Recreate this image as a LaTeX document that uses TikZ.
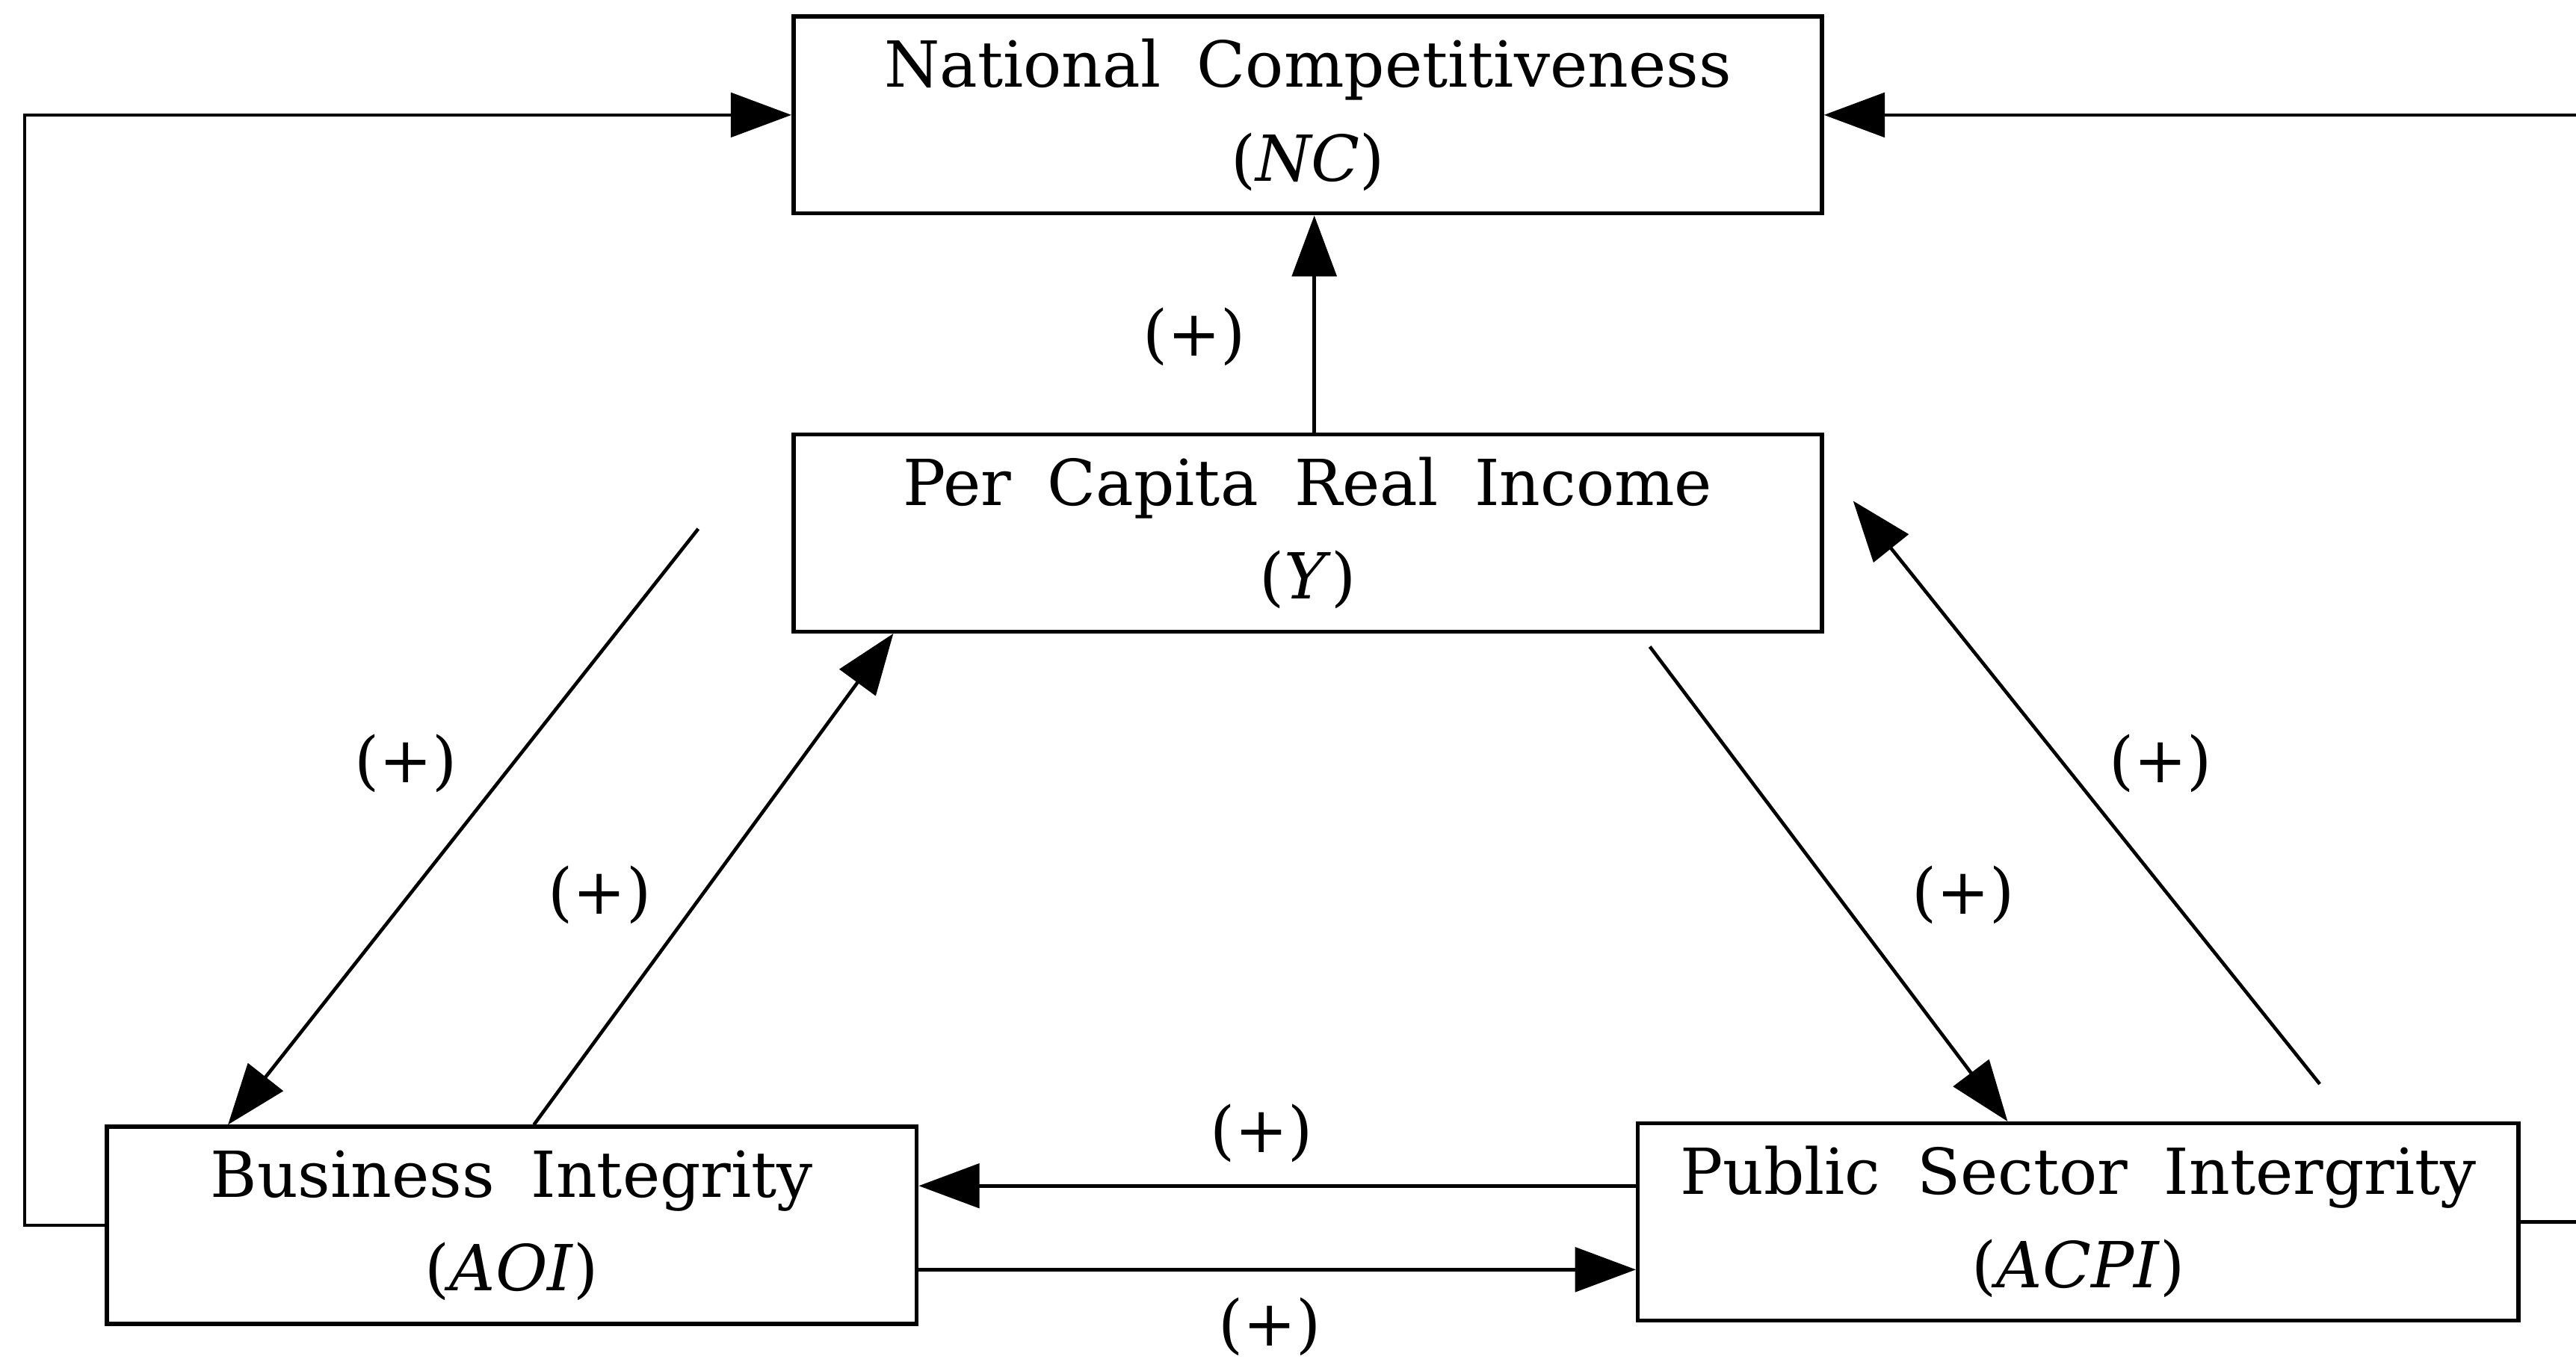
\documentclass[tikz,border=0pt]{standalone}
\usepackage{fontspec}
\setmainfont{DejaVu Serif}[WordSpace=1.8]
\usetikzlibrary{arrows.meta}

\begin{document}
\begin{tikzpicture}[
  box/.style={draw,line width=0.7pt,minimum height=1.2cm,inner sep=0pt,align=center,font=\fontsize{11}{16.2}\selectfont},
  plus/.style={font=\fontsize{11}{13}\selectfont},
  arr/.style={line width=0.6pt,-{Triangle[length=3.7mm,width=2.7mm]}}]
\useasboundingbox (0,0) rectangle (15.68,-8.29);
%\draw[step=1cm,gray,very thin] (0,0) grid (15.68,-8.29);

% boxes
\node[box,minimum width=6.26cm] (NC)  at (7.96,-0.70)  {National Competitiveness\\(\textit{NC})};
\node[box,minimum width=6.26cm] (Y)   at (7.96,-3.245) {Per Capita Real Income\\(\textit{Y})};
\node[box,minimum width=4.93cm] (AOI) at (3.115,-7.46) {Business Integrity\\(\textit{AOI})};
\node[box,minimum width=5.36cm] (ACPI) at (12.65,-7.44) {Public Sector Intergrity\\(\textit{ACPI})};

% free ends
\coordinate (lloop) at (0.15,0);
\coordinate (rloop) at (15.85,0);
\coordinate (yleft)  at (4.25,-3.22);
\coordinate (yright) at (11.28,-3.05);
\coordinate (pright) at (14.12,-6.60);

% arrows
\draw[arr] ([xshift=0.04cm]Y.north) -- ([xshift=0.04cm]NC.south);
\draw[arr] (AOI.west) -- (lloop |- AOI.west) -- (lloop |- NC.west) -- (NC.west);
\draw[arr] (ACPI.east) -- (rloop |- ACPI.east) -- (rloop |- NC.east) -- (NC.east);
\draw[arr] (yleft) -- ([xshift=0.75cm]AOI.north west);
\draw[arr] ([xshift=0.135cm]AOI.north) -- ([xshift=0.62cm]Y.south west);
\draw[arr] ([xshift=-1.06cm,yshift=-0.08cm]Y.south east) -- ([xshift=-0.43cm]ACPI.north);
\draw[arr] (pright) -- (yright);
\draw[arr] (ACPI.west |- 0,-7.22) -- (AOI.east |- 0,-7.22);
\draw[arr] (AOI.east |- 0,-7.73) -- (ACPI.west |- 0,-7.73);

% signs
\node[plus] (s1) at (7.27,-2.05)  {(+)};
\node[plus] (s2) at (2.47,-4.65)  {(+)};
\node[plus] (s3) at (3.65,-5.45)  {(+)};
\node[plus] (s4) at (11.95,-5.45) {(+)};
\node[plus] (s5) at (13.15,-4.65) {(+)};
\node[plus] (s6) at (7.68,-6.90)  {(+)};
\node[plus] (s7) at (7.73,-8.08)  {(+)};
\end{tikzpicture}
\end{document}
